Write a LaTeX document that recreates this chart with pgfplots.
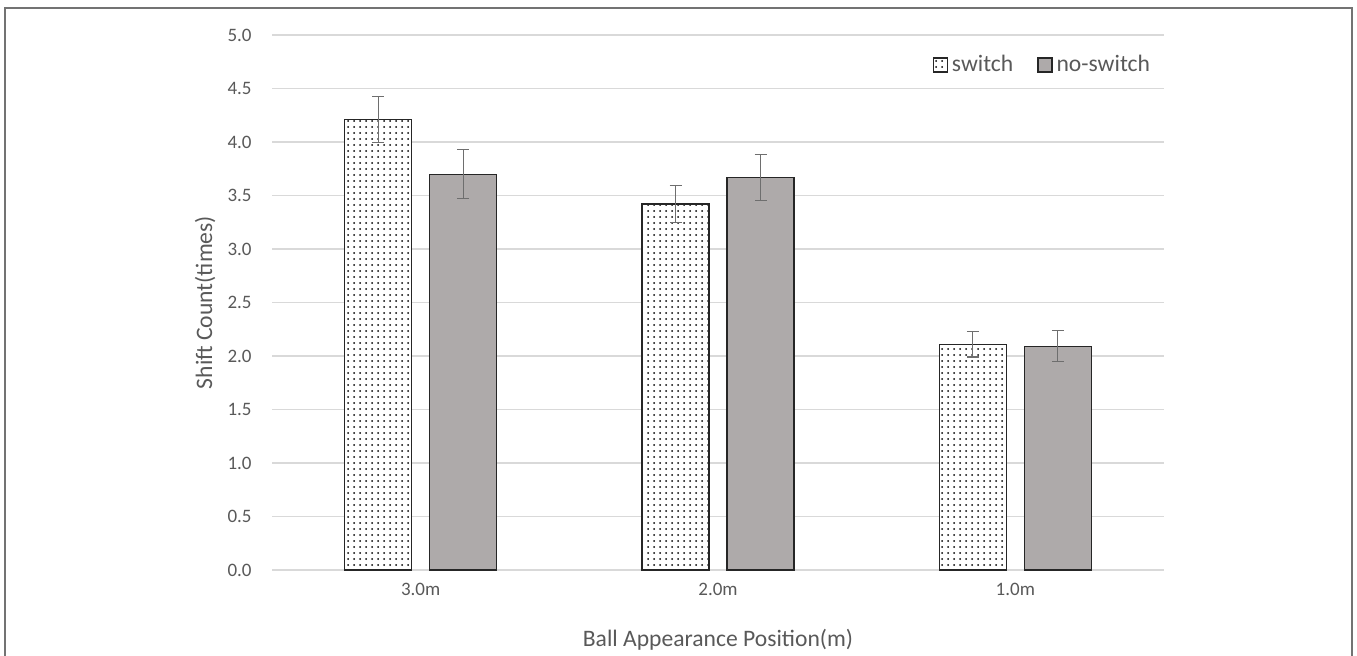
\documentclass[border=0pt]{standalone}
\usepackage{pgfplots}
\pgfplotsset{compat=1.18}
\usepackage{fontspec}
\setmainfont{Carlito}
\usetikzlibrary{patterns}
\definecolor{txt}{RGB}{89,89,89}
\definecolor{grid}{RGB}{217,217,217}
\definecolor{nosw}{RGB}{174,170,170}
\definecolor{errc}{RGB}{110,110,110}
\begin{document}
\begin{tikzpicture}
\useasboundingbox (0,0) rectangle (678.5pt,327.5pt);
\draw[line width=0.8pt, black!55] (2.5pt,-1pt) -- (2.5pt,323.5pt) -- (676pt,323.5pt) -- (676pt,-1pt);
\begin{axis}[
  at={(136pt,42.5pt)}, anchor=south west,
  scale only axis, width=446pt, height=267.5pt,
  ymin=0, ymax=5, ytick={0,0.5,...,5},
  yticklabel style={/pgf/number format/.cd, fixed, fixed zerofill, precision=1},
  xmin=-0.5, xmax=2.5, xtick={0,1,2}, xticklabels={3.0m,2.0m,1.0m},
  major tick length=0pt,
  axis y line*=left, axis x line*=bottom,
  y axis line style={draw=none},
  x axis line style={draw=grid, line width=0.6pt},
  ymajorgrids, grid style={draw=grid, line width=0.6pt},
  tick label style={font=\fontsize{9.5}{10}\selectfont, text=txt, inner sep=0pt},
  /pgf/number format/assume math mode=true,
  yticklabel shift=10pt, xticklabel shift=6.5pt,
  ylabel={Shift Count(times)}, xlabel={Ball Appearance Position(m)},
  label style={font=\fontsize{11.8}{13}\selectfont, text=txt},
  ylabel style={at={(axis description cs:-0.0751,0.5)}, anchor=center},
  xlabel style={at={(axis description cs:0.5,-0.1308)}, anchor=center},
  ybar, bar width=33.5pt,
  legend columns=2,
  legend style={at={(rel axis cs:0.996,0.944)}, anchor=east, draw=none, fill=none,
    font=\fontsize{11.8}{13}\selectfont, text=txt,
    /tikz/every even column/.append style={column sep=10pt}},
  legend image code/.code={\draw[#1] (0pt,-3.5pt) rectangle (7pt,3.5pt);},
  error bars/error bar style={draw=errc, line width=0.6pt},
  error bars/error mark options={draw=errc, line width=0.6pt, rotate=90, mark size=3pt},
]
\addplot[fill=white, draw=black!85, line width=0.6pt, bar shift=-21.25pt,
  postaction={pattern=dots, pattern color=black},
  error bars/.cd, y dir=both, y explicit]
  coordinates {(0,4.21) +- (0,0.215) (1,3.42) +- (0,0.175) (2,2.11) +- (0,0.12)};
\addplot[fill=nosw, draw=black!85, line width=0.6pt, bar shift=21.25pt,
  error bars/.cd, y dir=both, y explicit]
  coordinates {(0,3.70) +- (0,0.23) (1,3.67) +- (0,0.215) (2,2.09) +- (0,0.145)};
\legend{switch, no-switch}
\end{axis}
\end{tikzpicture}
\end{document}
